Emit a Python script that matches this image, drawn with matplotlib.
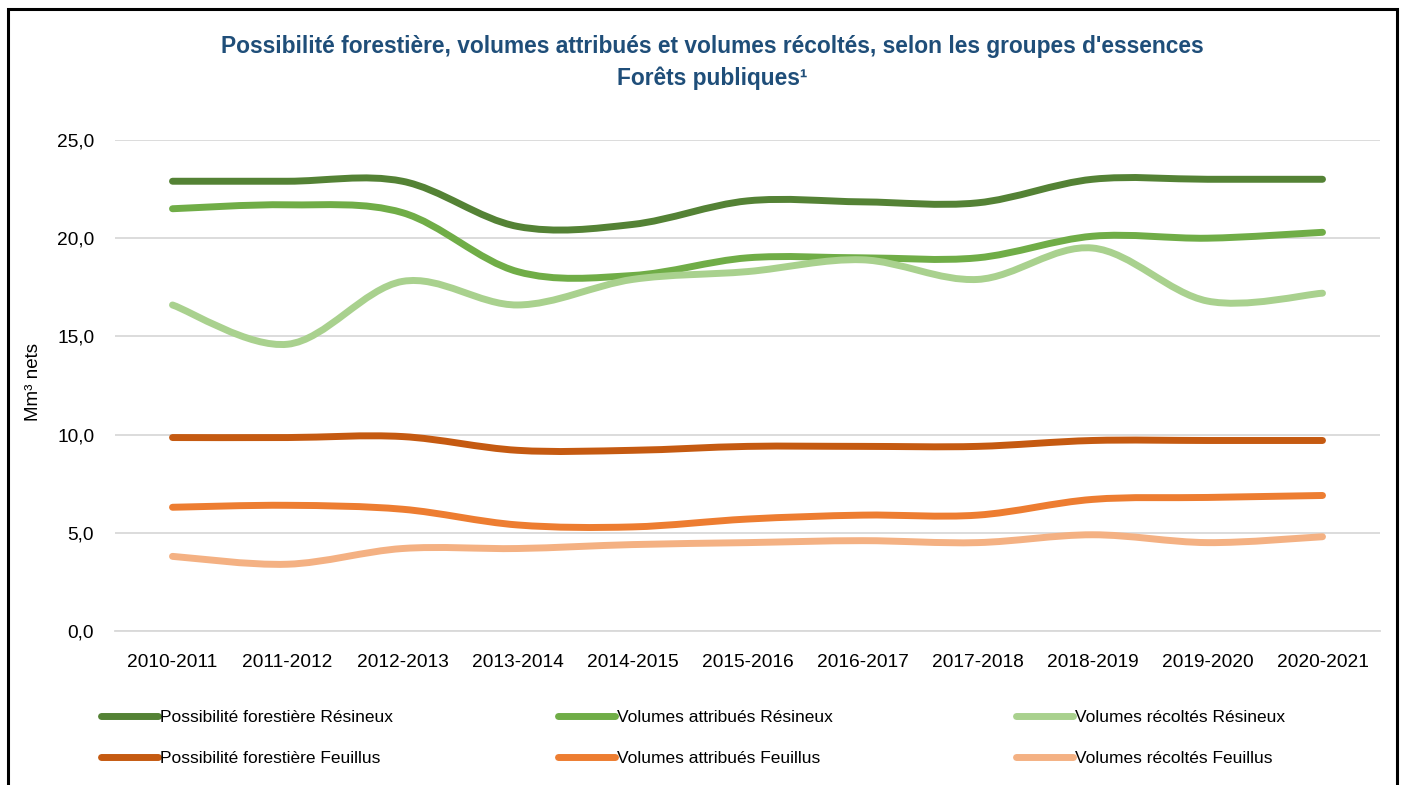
import matplotlib
matplotlib.use("Agg")
import matplotlib.pyplot as plt
from matplotlib.path import Path
from matplotlib.patches import PathPatch, Rectangle
from matplotlib.lines import Line2D
import matplotlib.ticker as ticker

plt.rcParams["font.family"] = ["Liberation Sans", "DejaVu Sans"]

# ── Data (Mm³ nets) ───────────────────────────────────────────────────────────
periods = ["2010-2011", "2011-2012", "2012-2013", "2013-2014", "2014-2015",
           "2015-2016", "2016-2017", "2017-2018", "2018-2019", "2019-2020",
           "2020-2021"]

poss_resineux = [22.9, 22.9, 22.9, 20.6, 20.7, 21.9, 21.85, 21.8, 23.0, 23.0, 23.0]
attr_resineux = [21.5, 21.7, 21.3, 18.3, 18.1, 19.0, 19.0, 19.0, 20.1, 20.0, 20.3]
reco_resineux = [16.6, 14.6, 17.8, 16.6, 17.9, 18.3, 18.9, 17.9, 19.5, 16.8, 17.2]
poss_feuillus = [9.85, 9.85, 9.9, 9.2, 9.2, 9.4, 9.4, 9.4, 9.7, 9.7, 9.7]
attr_feuillus = [6.3, 6.4, 6.2, 5.4, 5.3, 5.7, 5.9, 5.9, 6.7, 6.8, 6.9]
reco_feuillus = [3.8, 3.4, 4.2, 4.2, 4.4, 4.5, 4.6, 4.5, 4.9, 4.5, 4.8]

series = [
    ("Possibilité forestière Résineux", poss_resineux, "#548235"),
    ("Volumes attribués Résineux",      attr_resineux, "#70AD47"),
    ("Volumes récoltés Résineux",       reco_resineux, "#A9D18E"),
    ("Possibilité forestière Feuillus", poss_feuillus, "#C55A11"),
    ("Volumes attribués Feuillus",      attr_feuillus, "#ED7D31"),
    ("Volumes récoltés Feuillus",       reco_feuillus, "#F4B183"),
]

TITLE_COLOR = "#1F4E79"
GRID_COLOR = "#D9D9D9"
LW = 5.0

W, H = 1402, 785
fig = plt.figure(figsize=(W / 100, H / 100), dpi=100, facecolor="white")
ax = fig.add_axes([115 / W, 1 - 631 / H, (1380 - 115) / W, (631 - 140) / H])


def smooth_path(ys, t=1 / 6):
    """Catmull-Rom style cubic Bezier path through the points (like a spreadsheet 'smoothed line')."""
    pts = list(enumerate(ys))
    n = len(pts)
    verts = [pts[0]]
    codes = [Path.MOVETO]
    for i in range(n - 1):
        p0 = pts[max(i - 1, 0)]
        p1 = pts[i]
        p2 = pts[i + 1]
        p3 = pts[min(i + 2, n - 1)]
        c1 = (p1[0] + (p2[0] - p0[0]) * t, p1[1] + (p2[1] - p0[1]) * t)
        c2 = (p2[0] - (p3[0] - p1[0]) * t, p2[1] - (p3[1] - p1[1]) * t)
        verts += [c1, c2, p2]
        codes += [Path.CURVE4] * 3
    return Path(verts, codes)


handles = []
for label, ys, color in series:
    patch = PathPatch(smooth_path(ys), facecolor="none", edgecolor=color,
                      linewidth=LW, capstyle="round", joinstyle="round", zorder=3)
    ax.add_patch(patch)
    handles.append(Line2D([], [], color=color, linewidth=LW,
                          solid_capstyle="round", label=label))

ax.set_xlim(-0.5, len(periods) - 0.5)
ax.set_ylim(0, 25)
ax.set_xticks(range(len(periods)))
ax.set_xticklabels(periods)
ax.set_yticks([0, 5, 10, 15, 20, 25])
ax.yaxis.set_major_formatter(ticker.FuncFormatter(lambda v, _: f"{v:.1f}".replace(".", ",")))
ax.tick_params(axis="both", length=0, labelsize=13.8, colors="black")
ax.tick_params(axis="y", pad=15)
ax.tick_params(axis="x", pad=16.5)
ax.grid(axis="y", color=GRID_COLOR, linewidth=1.3, zorder=0)
ax.set_axisbelow(True)
for side in ("top", "right", "left"):
    ax.spines[side].set_visible(False)
ax.spines["bottom"].set_color(GRID_COLOR)
ax.spines["bottom"].set_linewidth(1.3)

fig.text(33 / W, 1 - 382 / H, "Mm³ nets", rotation=90, ha="center", va="center",
         fontsize=13.5)

# Titles
fig.text(712 / W, 1 - 46 / H,
         "Possibilité forestière, volumes attribués et volumes récoltés, selon les groupes d'essences",
         ha="center", va="center", fontsize=16.4, fontweight="bold", color=TITLE_COLOR)
fig.text(712 / W, 1 - 78 / H, "Forêts publiques¹", ha="center", va="center",
         fontsize=16.4, fontweight="bold", color=TITLE_COLOR)

# Legend: three columns, two rows
col_x = [101, 558, 1016]
for c, x in enumerate(col_x):
    fig.legend(handles=[handles[c], handles[c + 3]], loc="upper left",
               bbox_to_anchor=(x / W, 1 - 710 / H), frameon=False,
               fontsize=12.5, handlelength=3.3, handletextpad=0.1,
               labelspacing=1.5, borderpad=0, borderaxespad=0)

# Outer frame
fig.add_artist(Rectangle((8 / W, -0.05), (1397 - 8) / W, 1.05 - 9 / H,
                         transform=fig.transFigure, fill=False,
                         edgecolor="black", linewidth=2.2))

fig.savefig("out.png", dpi=100, facecolor="white")
